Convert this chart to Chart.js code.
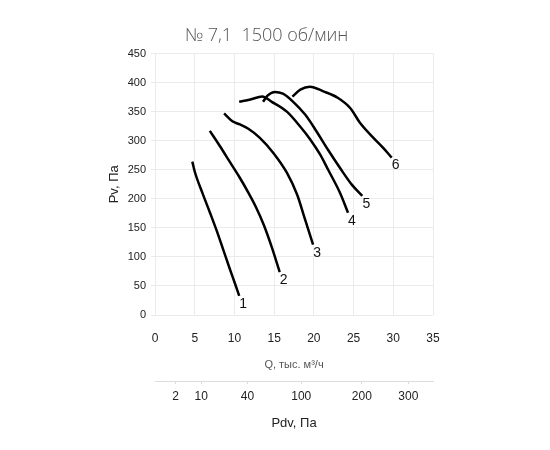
<!DOCTYPE html>
<html>
<head>
<meta charset="utf-8">
<script src="https://cdn.jsdelivr.net/npm/chart.js@4.4.0/dist/chart.umd.min.js"></script>
<style>
	html, body { margin: 0; padding: 0; background: #fff; }
	#canvas { display: block; }
</style>
</head>
<body>
<canvas id="canvas" width="550" height="450"></canvas>
<script>
// fan curves: Q (тыс. м³/ч) -> Pv (Па)
const curveNames = ['1', '2', '3', '4', '5', '6'];

const q1 = [4.7, 5.0, 6.0, 6.9, 7.8, 8.6, 9.4, 10.1, 10.6];
const p1 = [264, 247, 209, 177, 144, 112, 80, 53, 33];

const q2 = [6.9, 8.2, 9.4, 10.6, 11.7, 12.7, 13.7, 14.7, 15.7];
const p2 = [317, 290, 264, 238, 212, 186, 155, 117, 74];

const q3 = [8.7, 9.8, 10.7, 11.7, 13.2, 14.9, 16.6, 17.9, 18.9, 19.9];
const p3 = [347, 333, 328, 321, 305, 279, 245, 207, 164, 121];

const q4 = [10.6, 12.0, 13.5, 14.7, 16.6, 18.3, 19.5, 20.8, 21.8, 23.3, 24.3];
const p4 = [367, 371, 376, 367, 350, 324, 303, 276, 250, 210, 176];

const q5 = [13.6, 14.2, 15.1, 16.1, 17.4, 18.9, 20.2, 21.8, 23.3, 24.8, 26.1];
const p5 = [367, 378, 384, 381, 367, 345, 319, 284, 253, 224, 205];

const q6 = [17.3, 18.3, 19.5, 21.2, 23.0, 24.6, 25.8, 27.5, 28.7, 29.8];
const p6 = [376, 388, 393, 385, 374, 356, 331, 305, 288, 271];

// dynamic pressure scale under the Q axis
const pdvTicks = [2, 10, 40, 100, 200, 300];
const pdvPerQ2 = 0.295; // Pdv ~ k * Q^2

const qs = [q1, q2, q3, q4, q5, q6];
const ps = [p1, p2, p3, p4, p5, p6];

const FONT = '"Liberation Sans", Arial, sans-serif';
const GRID = '#ebebeb';

const curveLabels = {
	id: 'curveLabels',
	afterDatasetsDraw(chart) {
		const ctx = chart.ctx;
		ctx.save();
		ctx.font = '14px ' + FONT;
		ctx.fillStyle = '#111';
		ctx.textAlign = 'center';
		ctx.textBaseline = 'middle';
		chart.data.datasets.forEach((ds, i) => {
			const pts = chart.getDatasetMeta(i).data;
			const last = pts[pts.length - 1];
			ctx.fillText(ds.label, last.x + 4, last.y + 8);
		});
		ctx.restore();
	}
};

new Chart(document.getElementById('canvas'), {
	type: 'line',
	data: {
		datasets: curveNames.map((name, i) => ({
			label: name,
			data: qs[i].map((q, j) => ({ x: q, y: ps[i][j] })),
			borderColor: '#000',
			borderWidth: 2.5,
			pointRadius: 0,
			cubicInterpolationMode: 'monotone',
			fill: false,
		}))
	},
	options: {
		responsive: false,
		animation: false,
		layout: {
			padding: { left: 100, right: 117, top: 0, bottom: 0 }
		},
		plugins: {
			legend: { display: false },
			tooltip: { enabled: false },
			title: {
				display: true,
				text: '№ 7,1  1500 об/мин',
				color: '#555',
				font: { family: '"Open Sans", sans-serif', size: 18, weight: '300', lineHeight: 1.2 },
				padding: { top: 25, bottom: 7 }
			}
		},
		scales: {
			x: {
				type: 'linear',
				position: 'bottom',
				min: 0,
				max: 35,
				border: { display: false },
				grid: { color: GRID, drawTicks: false },
				ticks: {
					stepSize: 5,
					padding: 16,
					maxRotation: 0,
					color: '#222',
					font: { family: FONT, size: 12 }
				},
				title: {
					display: true,
					text: 'Q, тыс. м³/ч',
					color: '#555',
					font: { family: FONT, size: 11 },
					padding: { top: 0, bottom: 9 }
				},
				afterFit: (scale) => { scale.height = 66; }
			},
			x2: {
				type: 'linear',
				position: 'bottom',
				weight: 1,
				min: 0,
				max: 35,
				border: { display: true, color: '#dcdcdc' },
				grid: { drawOnChartArea: false, color: '#dcdcdc', tickLength: 3 },
				afterBuildTicks: (scale) => {
					scale.ticks = pdvTicks.map(p => ({ value: Math.sqrt(p / pdvPerQ2) }));
				},
				ticks: {
					autoSkip: false,
					maxRotation: 0,
					padding: 5,
					color: '#222',
					font: { family: FONT, size: 12 },
					callback: (v, i) => pdvTicks[i]
				},
				title: {
					display: true,
					text: 'Pdv, Па',
					color: '#222',
					font: { family: FONT, size: 13 },
					padding: { top: 0, bottom: 19 }
				},
				afterFit: (scale) => { scale.height = 69; }
			},
			y: {
				min: 0,
				max: 450,
				border: { display: false },
				grid: { color: GRID, tickLength: 4 },
				ticks: {
					stepSize: 50,
					padding: 5,
					color: '#222',
					font: { family: FONT, size: 11 }
				},
				title: {
					display: true,
					text: 'Pv, Па',
					color: '#222',
					font: { family: FONT, size: 13 },
					padding: { top: 7, bottom: 0 }
				},
				afterFit: (scale) => { scale.width = 55; }
			}
		}
	},
	plugins: [curveLabels]
});
</script>
</body>
</html>
